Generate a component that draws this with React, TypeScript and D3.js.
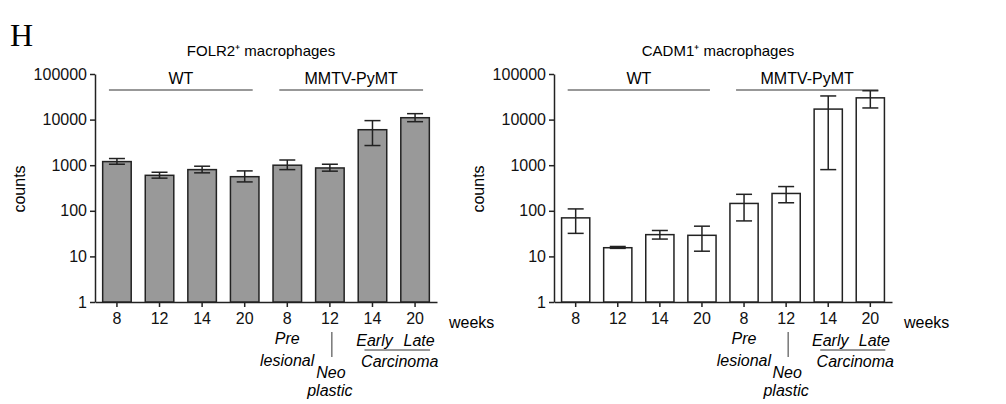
import React, { useEffect, useRef } from "react";
import * as d3 from "d3";

const weeks = ["8", "12", "14", "20", "8", "12", "14", "20"];
const folrMean = [1200, 600, 800, 560, 1000, 870, 6000, 11000];
const folrLow = [1050, 520, 680, 430, 800, 740, 2700, 9000];
const folrHigh = [1400, 700, 950, 750, 1300, 1050, 9500, 13500];
const cadmMean = [70, 15.5, 30, 29, 145, 240, 17000, 30000];
const cadmLow = [32, 15, 24, 13, 60, 150, 800, 18000];
const cadmHigh = [110, 16.5, 37, 46, 230, 340, 33000, 43000];
const yTicks = [1, 10, 100, 1000, 10000, 100000];

const W = 1006, H = 404;

const App = () => {
  const svgRef = useRef(null);

  useEffect(() => {
    const svg = d3.select(svgRef.current);
    svg.selectAll("*").remove();
    svg.append("rect").attr("width", W).attr("height", H).attr("fill", "#fff");
    svg.append("text").attr("x", 10).attr("y", 46).attr("font-size", 32).text("H");

    const panel = (x0, x1, title, mean, lo, hi, fill) => {
      const g = svg.append("g").attr("font-family", "Liberation Sans, Arial, sans-serif");
      const y = d3.scaleLog().domain([1, 100000]).range([302, 74]);
      const x = d3.scaleBand().domain(d3.range(8).map(String)).range([x0, x1]).paddingInner(0.33).paddingOuter(0.18);

      const ax = g.append("g").attr("transform", `translate(${x0},0)`)
        .call(d3.axisLeft(y).tickValues(yTicks).tickFormat(d3.format("d")).tickSize(5).tickSizeOuter(0));
      ax.selectAll("text").attr("font-size", 16).attr("fill", "#111");
      ax.selectAll("line,path").attr("stroke", "#222").attr("stroke-width", 1.5);

      const xa = g.append("g").attr("transform", "translate(0,302)")
        .call(d3.axisBottom(x).tickFormat((d) => weeks[+d]).tickSize(5).tickSizeOuter(0));
      xa.selectAll("text").attr("font-size", 16).attr("fill", "#111").attr("dy", "0.9em");
      xa.selectAll("line,path").attr("stroke", "#222").attr("stroke-width", 1.5);

      g.append("text").attr("transform", `translate(${x0 - 70},189) rotate(-90)`).attr("text-anchor", "middle").attr("font-size", 16).text("counts");
      g.append("text").attr("x", x1 + 12).attr("y", 328).attr("font-size", 16).text("weeks");
      g.append("text").attr("x", (x0 + x1) / 2 - 5).attr("y", 56).attr("text-anchor", "middle").attr("font-size", 15).text(title);

      mean.forEach((m, i) => {
        const bx = x(String(i)), bw = x.bandwidth(), cx = bx + bw / 2;
        g.append("rect").attr("x", bx).attr("y", y(m)).attr("width", bw).attr("height", 302 - y(m))
          .attr("fill", fill).attr("stroke", "#222").attr("stroke-width", 1.5);
        const e = g.append("g").attr("stroke", "#222").attr("stroke-width", 1.5);
        e.append("line").attr("x1", cx).attr("x2", cx).attr("y1", y(lo[i])).attr("y2", y(hi[i]));
        [lo[i], hi[i]].forEach((v) => e.append("line").attr("x1", cx - 8).attr("x2", cx + 8).attr("y1", y(v)).attr("y2", y(v)));
      });

      const c = (i) => x(String(i)) + x.bandwidth() / 2;
      const gy = 90;
      [[0, 3, "WT"], [4, 7, "MMTV-PyMT"]].forEach(([a, b, t]) => {
        g.append("line").attr("x1", c(a) - 8).attr("x2", c(b) + 8).attr("y1", gy).attr("y2", gy).attr("stroke", "#333").attr("stroke-width", 1.2);
        g.append("text").attr("x", (c(a) + c(b)) / 2).attr("y", gy - 6).attr("text-anchor", "middle").attr("font-size", 16).text(t);
      });

      const it = (tx, ty, s, anchor = "middle") =>
        g.append("text").attr("x", tx).attr("y", ty).attr("text-anchor", anchor).attr("font-size", 16).attr("font-style", "italic").text(s);
      it(c(4), 344, "Pre");
      it(c(4) + 27, 366, "lesional", "end");
      g.append("line").attr("x1", c(5) + 2).attr("x2", c(5) + 2).attr("y1", 332).attr("y2", 357).attr("stroke", "#333");
      it(c(5) + 1, 378, "Neo");
      it(c(5), 396, "plastic");
      it(c(6) + 2, 346, "Early");
      it(c(7) + 4, 346, "Late");
      g.append("line").attr("x1", c(6) - 8).attr("x2", c(7) + 15).attr("y1", 350).attr("y2", 350).attr("stroke", "#333");
      it((c(6) + c(7)) / 2 + 6, 367, "Carcinoma");
    };

    panel(95, 437, "FOLR2\u207A macrophages", folrMean, folrLow, folrHigh, "#999");
    panel(554, 892, "CADM1\u207A macrophages", cadmMean, cadmLow, cadmHigh, "#fff");
  }, []);

  return <svg ref={svgRef} width={W} height={H} style={{ display: "block", position: "absolute", left: 0, top: 0 }} />;
};

export default App;
